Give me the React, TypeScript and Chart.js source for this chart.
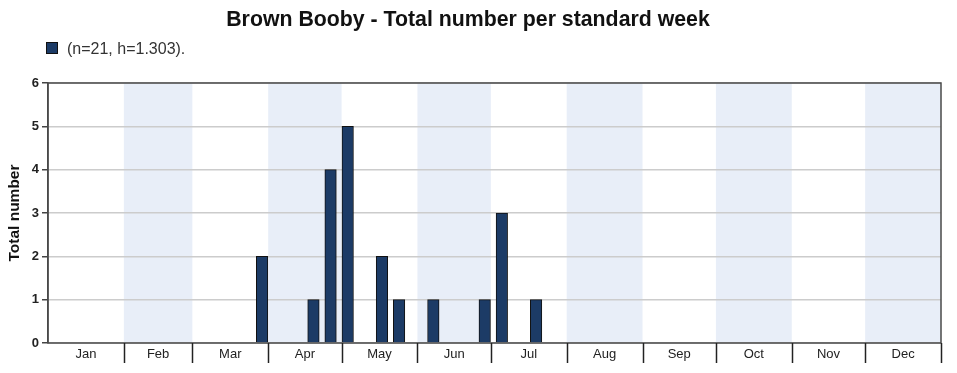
import React, { useEffect, useRef } from "react";
import { Chart, registerables } from "chart.js";

Chart.register(...registerables);

const TITLE = "Brown Booby - Total number per standard week";
const SERIES_LABEL = "(n=21, h=1.303).";
const Y_TITLE = "Total number";
const MONTHS = ["Jan", "Feb", "Mar", "Apr", "May", "Jun", "Jul", "Aug", "Sep", "Oct", "Nov", "Dec"];
const MONTH_DAYS = [31, 28, 31, 30, 31, 30, 31, 31, 30, 31, 30, 31];
// standard week numbers (1-based, 7-day weeks from 1 Jan) and counts
const WEEKS = [13, 16, 17, 18, 20, 21, 23, 26, 27, 29];
const COUNTS = [2, 1, 4, 5, 2, 1, 1, 1, 3, 1];
const Y_TICKS = [0, 1, 2, 3, 4, 5, 6];

const BAR_COLOR = "#1c3b66";
const SHADE = "#e8eef8";
const FRAME = "#4a4a4a";
const FONT = '"Liberation Sans", Arial, sans-serif';

const monthStarts: number[] = [];
{
  let acc = 0;
  for (const d of MONTH_DAYS) {
    monthStarts.push(acc);
    acc += d;
  }
  monthStarts.push(acc);
}
const monthMids = MONTHS.map((_, i) => (monthStarts[i] + monthStarts[i + 1]) / 2);

export default function App() {
  const ref = useRef<HTMLCanvasElement | null>(null);

  useEffect(() => {
    if (!ref.current) return;
    const decor = {
      id: "decor",
      beforeDraw(chart: any) {
        const { ctx, chartArea, scales } = chart;
        const x = scales.x;
        ctx.save();
        ctx.fillStyle = SHADE;
        for (let i = 1; i < 12; i += 2) {
          const a = x.getPixelForValue(monthStarts[i]);
          const b = x.getPixelForValue(monthStarts[i + 1]);
          ctx.fillRect(a, chartArea.top, b - a, chartArea.bottom - chartArea.top);
        }
        ctx.restore();
      },
      afterDraw(chart: any) {
        const { ctx, chartArea, scales } = chart;
        const x = scales.x;
        ctx.save();
        // frame
        ctx.strokeStyle = FRAME;
        ctx.lineWidth = 1.5;
        ctx.strokeRect(chartArea.left, chartArea.top, chartArea.right - chartArea.left, chartArea.bottom - chartArea.top);
        // month boundary ticks
        ctx.strokeStyle = "#222";
        ctx.lineWidth = 1.5;
        for (let i = 1; i <= 12; i++) {
          const px = Math.round(x.getPixelForValue(monthStarts[i])) + 0.5;
          ctx.beginPath();
          ctx.moveTo(px, chartArea.bottom);
          ctx.lineTo(px, chartArea.bottom + 20);
          ctx.stroke();
        }
        // title
        ctx.fillStyle = "#111";
        ctx.font = `bold 21.3px ${FONT}`;
        ctx.textAlign = "center";
        ctx.textBaseline = "alphabetic";
        ctx.fillText(TITLE, 468, 26);
        // legend
        ctx.fillStyle = BAR_COLOR;
        ctx.fillRect(46.5, 42.5, 11, 11);
        ctx.strokeStyle = "#111";
        ctx.lineWidth = 1;
        ctx.strokeRect(46.5, 42.5, 11, 11);
        ctx.fillStyle = "#333";
        ctx.font = `16px ${FONT}`;
        ctx.textAlign = "left";
        ctx.fillText(SERIES_LABEL, 67, 54);
        ctx.restore();
      },
    };

    const chart = new Chart(ref.current, {
      type: "bar",
      data: {
        datasets: [
          {
            label: SERIES_LABEL,
            data: WEEKS.map((w, i) => ({ x: (w - 1) * 7 + 3.5, y: COUNTS[i] })),
            backgroundColor: BAR_COLOR,
            borderColor: "#111",
            borderWidth: 1,
            barThickness: 11.5,
          },
        ],
      },
      options: {
        responsive: true,
        maintainAspectRatio: false,
        animation: false,
        layout: { padding: { top: 83, right: 16, left: 0, bottom: 0 } },
        plugins: {
          legend: { display: false },
          title: { display: false },
          tooltip: { enabled: false },
        },
        scales: {
          x: {
            type: "linear",
            min: 0,
            max: 365,
            offset: false,
            grid: { display: false, drawTicks: false, offset: false },
            border: { display: false },
            afterBuildTicks(scale: any) {
              scale.ticks = monthMids.map((v) => ({ value: v }));
            },
            afterFit(scale: any) {
              scale.height = 30;
            },
            ticks: {
              autoSkip: false,
              maxRotation: 0,
              minRotation: 0,
              padding: 4,
              color: "#222",
              font: { family: FONT, size: 13 },
              callback(value: any) {
                const i = monthMids.indexOf(value as number);
                return i >= 0 ? MONTHS[i] : "";
              },
            },
          },
          y: {
            min: Y_TICKS[0],
            max: Y_TICKS[Y_TICKS.length - 1],
            afterBuildTicks(scale: any) {
              scale.ticks = Y_TICKS.map((v) => ({ value: v }));
            },
            afterFit(scale: any) {
              scale.width = 48;
            },
            grid: {
              color: "#cccccc",
              lineWidth: 1.5,
              tickLength: 6,
              tickColor: "#444",
            },
            border: { display: true, color: FRAME, width: 1.5 },
            ticks: {
              padding: 3,
              color: "#222",
              font: { family: FONT, size: 13, weight: "bold" },
            },
            title: {
              display: true,
              text: Y_TITLE,
              color: "#111",
              font: { family: FONT, size: 15.5, weight: "bold" },
              padding: { top: 5, bottom: 0 },
            },
          },
        },
      },
      plugins: [decor],
    });
    return () => chart.destroy();
  }, []);

  return (
    <div style={{ position: "absolute", left: 0, top: 0, width: 957, height: 373 }}>
      <canvas ref={ref} />
    </div>
  );
}
